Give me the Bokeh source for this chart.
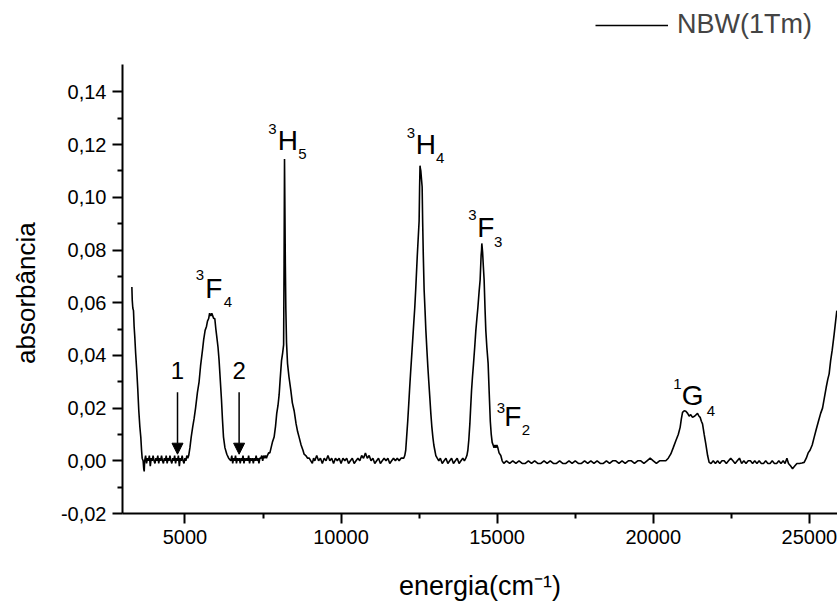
from bokeh.plotting import figure
from bokeh.models import (Range1d, FixedTicker, CustomJSTickFormatter, Arrow, NormalHead,
                          Legend, LegendItem, ColumnDataSource)
from bokeh.core.properties import value
from bokeh.embed import file_html
from bokeh.resources import INLINE

# ---------------- data ----------------
energy = [
    3300, 3312, 3330, 3352, 3372, 3394, 3420, 3458, 3490, 3522, 3555, 3586, 3610, 3630, 3660, 3680, 3695, 3710,
    3740, 3770, 3800, 3830, 3860, 3890, 3920, 3950, 3980, 4010, 4040, 4070, 4100, 4130, 4160, 4190, 4220, 4250,
    4280, 4310, 4340, 4370, 4400, 4430, 4460, 4490, 4520, 4550, 4580, 4610, 4640, 4670, 4700, 4730, 4760, 4790,
    4820, 4850, 4880, 4910, 4940, 4970, 5000, 5030, 5060, 5090, 5120,
    5160, 5200, 5250, 5293, 5340, 5400, 5453, 5500, 5562, 5600, 5646, 5690, 5722, 5760, 5790, 5828, 5860, 5890,
    5920, 5956, 5990, 6020, 6060, 6094, 6130, 6171, 6200, 6235, 6280, 6341, 6400, 6469,
    6500, 6530, 6560, 6590, 6620, 6650, 6680, 6710, 6740, 6770, 6800, 6830, 6860, 6890, 6920, 6950, 6980, 7010,
    7040, 7070, 7100, 7130, 7160, 7190, 7220, 7250, 7280, 7310, 7340, 7370, 7400, 7430, 7460, 7490, 7520, 7550,
    7580, 7610, 7640, 7680, 7720,
    7760, 7800, 7856, 7900, 7940, 7980, 8016, 8050, 8093, 8130, 8160, 8175, 8189, 8200, 8215, 8231, 8253, 8285,
    8330, 8391, 8440, 8497, 8560, 8610, 8656, 8720, 8780, 8817, 8870, 8930, 8980, 9031, 9080, 9120,
    9160, 9220, 9280, 9340, 9400, 9460, 9520, 9580, 9640, 9700, 9760, 9820, 9880, 9940, 10000, 10060, 10120,
    10180, 10240, 10300, 10360, 10420, 10480, 10540, 10600, 10660, 10720, 10780, 10840, 10900, 10960, 11020,
    11080, 11140, 11200, 11260, 11320, 11380, 11440, 11500, 11560, 11620, 11680, 11740, 11800, 11860, 11920, 11970,
    12007, 12040, 12071, 12100, 12135, 12165, 12199, 12230, 12263, 12295, 12327, 12360, 12391, 12442, 12500,
    12516, 12529, 12540, 12555, 12575, 12597, 12613, 12634, 12660, 12690, 12714, 12745, 12778, 12810, 12843,
    12875, 12907, 12940, 12971, 13003, 13035, 13080, 13131,
    13180, 13240, 13300, 13360, 13420, 13480, 13540, 13600, 13660, 13720, 13780, 13840, 13900, 13950,
    13996, 14030, 14061, 14092, 14125, 14150, 14179, 14210, 14243, 14280, 14317, 14350, 14381, 14420, 14454,
    14486, 14500, 14508, 14520, 14534, 14556, 14582, 14610, 14636, 14670, 14710, 14742, 14780, 14810, 14840,
    14870, 14900, 14930, 14960, 14990, 15020, 15060, 15116, 15160, 15212,
    15300, 15400, 15500, 15600, 15700, 15800, 15900, 16000, 16100, 16200, 16300, 16400, 16500, 16600, 16700,
    16800, 16900, 17000, 17100, 17200, 17300, 17400, 17500, 17600, 17700, 17800, 17900, 18000, 18100, 18200,
    18300, 18400, 18500, 18600, 18700, 18800, 18900, 19000, 19100, 19200, 19300, 19400, 19500, 19600, 19700,
    19800, 19900, 20000, 20100, 20200, 20300, 20402,
    20480, 20562, 20640, 20722, 20800, 20860, 20900, 20937, 20990, 21043, 21100, 21148, 21200, 21257, 21330,
    21417, 21460, 21501, 21540, 21577, 21630, 21683, 21740, 21789,
    21850, 21920, 21990, 22060, 22130, 22200, 22270, 22340, 22410, 22480, 22550, 22620, 22690, 22760, 22830,
    22900, 22970, 23040, 23110, 23180, 23250, 23320, 23390, 23460, 23530, 23600, 23670, 23740, 23810, 23880,
    23950, 24020, 24090, 24160, 24220, 24280, 24330, 24400, 24460, 24530, 24600, 24680, 24760, 24832,
    24900, 24960, 25020, 25090, 25152, 25220, 25290, 25360, 25421, 25480, 25540, 25590, 25632, 25680, 25730,
    25792, 25840, 25879,
]
absorbance = [
    0.066, 0.061, 0.058, 0.057, 0.051, 0.047, 0.041, 0.034, 0.027, 0.019, 0.013, 0.009, 0.004, 0.001, 0.000, -0.003, -0.004, 0.000,
    0.002, -0.001, 0.001, 0.000, 0.002, -0.002, 0.001, 0.000, 0.002, 0.000, -0.001, 0.001, 0.000, 0.002, -0.001, 0.001, 0.000, 0.002,
    0.000, -0.001, 0.001, 0.000, 0.002, -0.001, 0.001, 0.000, 0.002, 0.000, -0.001, 0.001, 0.000, 0.002, -0.001, 0.001, 0.000, 0.002,
    -0.002, 0.001, 0.000, 0.002, 0.000, -0.001, 0.001, 0.000, 0.002, 0.001, 0.002,
    0.005, 0.009, 0.013, 0.016, 0.020, 0.026, 0.030, 0.036, 0.042, 0.046, 0.0495, 0.051, 0.053, 0.054, 0.056, 0.055, 0.056, 0.055,
    0.054, 0.054, 0.050, 0.047, 0.043, 0.038, 0.031, 0.023, 0.016, 0.009, 0.005, 0.0025, 0.001, 0.000,
    0.002, -0.001, 0.001, 0.000, 0.002, -0.001, 0.001, 0.000, 0.001, -0.001, 0.001, 0.000, 0.002, -0.001, 0.001, 0.000, 0.001, 0.000,
    0.002, -0.001, 0.001, 0.000, 0.001, -0.001, 0.001, 0.000, 0.002, 0.000, 0.001, -0.001, 0.001, 0.001, 0.002, 0.000, 0.002, 0.001,
    0.002, 0.001, 0.002, 0.003, 0.003,
    0.005, 0.007, 0.009, 0.013, 0.018, 0.021, 0.025, 0.031, 0.038, 0.041, 0.044, 0.075, 0.1145, 0.098, 0.075, 0.058, 0.045, 0.037,
    0.032, 0.0267, 0.022, 0.019, 0.014, 0.011, 0.009, 0.006, 0.004, 0.0025, 0.002, 0.001, 0.001, 0.000, -0.001, 0.001,
    0.000, 0.002, 0.000, 0.001, -0.001, 0.001, 0.000, 0.002, 0.000, 0.001, -0.001, 0.001, 0.000, 0.001, -0.001, 0.001, 0.000,
    0.001, -0.001, 0.000, 0.001, -0.001, 0.000, 0.001, 0.000, 0.002, 0.001, 0.003, 0.001, 0.002, 0.000, 0.001,
    -0.001, 0.000, 0.001, -0.001, 0.000, 0.001, 0.000, 0.001, -0.001, 0.000, 0.001, 0.000, 0.001, 0.000, 0.001, 0.001,
    0.001, 0.002, 0.004, 0.009, 0.015, 0.021, 0.028, 0.034, 0.040, 0.046, 0.052, 0.058, 0.065, 0.078, 0.091,
    0.104, 0.112, 0.111, 0.110, 0.107, 0.104, 0.091, 0.078, 0.065, 0.057, 0.050, 0.043, 0.036, 0.030, 0.024,
    0.018, 0.013, 0.009, 0.006, 0.004, 0.002, 0.001, 0.000,
    0.001, -0.001, 0.000, 0.001, -0.001, 0.000, 0.001, -0.001, 0.000, 0.001, -0.001, 0.000, 0.001, 0.000,
    0.001, 0.002, 0.004, 0.008, 0.014, 0.020, 0.0267, 0.032, 0.037, 0.043, 0.0495, 0.054, 0.058, 0.064, 0.0686,
    0.078, 0.080, 0.0825, 0.081, 0.079, 0.074, 0.0686, 0.058, 0.0495, 0.043, 0.037, 0.0267, 0.015, 0.010, 0.007,
    0.006, 0.005, 0.006, 0.005, 0.006, 0.005, 0.003, 0.002, 0.000, -0.001,
    0.000, -0.001, 0.000, -0.001, 0.000, -0.001, -0.001, 0.000, -0.001, 0.000, -0.001, -0.001, 0.000, -0.001, 0.000,
    -0.001, -0.001, 0.000, -0.001, -0.001, 0.000, -0.001, 0.000, -0.001, -0.001, 0.000, -0.001, 0.000, -0.001, 0.000,
    -0.001, -0.001, 0.000, -0.001, 0.000, 0.000, -0.001, 0.000, -0.001, 0.000, 0.000, -0.001, 0.000, 0.000, -0.001,
    0.000, 0.001, 0.000, -0.001, 0.000, 0.000, 0.000,
    0.001, 0.0026, 0.005, 0.0076, 0.010, 0.0127, 0.016, 0.0184, 0.019, 0.0188, 0.018, 0.017, 0.0175, 0.0165, 0.017,
    0.018, 0.017, 0.0165, 0.015, 0.014, 0.010, 0.0063, 0.002, -0.0006,
    -0.001, 0.000, -0.001, 0.000, -0.001, 0.000, 0.000, -0.001, 0.000, 0.001, 0.000, -0.001, 0.000, 0.001, -0.001,
    0.000, -0.001, 0.000, 0.000, -0.001, 0.000, -0.001, 0.000, -0.001, -0.001, 0.000, -0.001, -0.001, 0.000, -0.001,
    -0.001, 0.000, -0.001, 0.000, -0.001, 0.001, -0.001, -0.002, -0.003, -0.002, -0.001, -0.001, -0.0008, -0.0006,
    0.001, 0.003, 0.004, 0.006, 0.0089, 0.012, 0.015, 0.018, 0.020, 0.024, 0.028, 0.031, 0.033, 0.038, 0.042,
    0.048, 0.053, 0.057,
]

series_name = "NBW(1Tm)"
x_label = "energia(cm\u207b\u00b9)"
y_label = "absorb\u00e2ncia"

x_major_ticks = [5000, 10000, 15000, 20000, 25000]
x_minor_ticks = [7500, 12500, 17500, 22500]
y_major_ticks = [-0.02, 0.0, 0.02, 0.04, 0.06, 0.08, 0.10, 0.12, 0.14]
y_minor_ticks = [-0.01, 0.01, 0.03, 0.05, 0.07, 0.09, 0.11, 0.13]
y_axis_extent = (-0.02, 0.1505)

# level annotations (superscript, letter, subscript pieces) and arrow numbers
ann_text = ["3", "F", "4", "3", "H", "5", "3", "H", "4", "3", "F", "3", "3", "F", "2", "1", "G", "4", "1", "2"]
ann_x = [5476, 5924, 6373, 7805, 8295, 8765, 12234, 12715, 13173, 14211, 14637, 15031,
         15117, 15501, 15918, 20776, 21257, 21843, 4762, 6735]
ann_y = [0.0705, 0.0655, 0.0602, 0.1261, 0.1216, 0.1165, 0.1245, 0.1200, 0.1149, 0.0933, 0.0886, 0.0832,
         0.0202, 0.0168, 0.0118, 0.0290, 0.0248, 0.0190, 0.0343, 0.0343]
ann_size = ["15px", "28px", "15px"] * 6 + ["24px", "24px"]

arrow_x = [4762, 6735]
arrow_y_start = [0.026, 0.026]
arrow_y_end = [0.0025, 0.0025]

FONT = "Liberation Sans"

# frame spans the whole height above the x axis; the y axis line is bounded to its data extent
p = figure(width=837, height=610, output_backend="svg", toolbar_location=None,
           x_range=Range1d(3000, 25900), y_range=Range1d(-0.02, 0.1747),
           min_border_left=122, min_border_right=0, min_border_top=0, min_border_bottom=97)
p.outline_line_color = None
p.xgrid.visible = False
p.ygrid.visible = False
p.background_fill_color = "white"
p.border_fill_color = "white"

line = p.line(energy, absorbance, line_color="black", line_width=1.6)

src = ColumnDataSource(dict(x=ann_x, y=ann_y, text=ann_text, size=ann_size))
p.text(x="x", y="y", text="text", text_font_size="size", source=src, text_align="center",
       text_baseline="middle", text_color="black", text_font=value(FONT))

for xa, ys, ye in zip(arrow_x, arrow_y_start, arrow_y_end):
    p.add_layout(Arrow(end=NormalHead(size=11, fill_color="black", line_color="black", line_width=1),
                       x_start=xa, y_start=ys, x_end=xa, y_end=ye, line_color="black", line_width=1.5))

for ax in (p.xaxis[0], p.yaxis[0]):
    ax.axis_line_width = 2
    ax.major_tick_line_width = 2
    ax.minor_tick_line_width = 2
    ax.major_tick_out = 10
    ax.major_tick_in = 0
    ax.minor_tick_out = 5
    ax.minor_tick_in = 0
    ax.major_label_text_font = FONT
    ax.major_label_text_font_size = "20px"
    ax.major_label_text_color = "black"
    ax.axis_label_text_font = FONT
    ax.axis_label_text_font_style = "normal"
    ax.axis_label_text_color = "black"
    ax.axis_line_color = "black"
    ax.major_tick_line_color = "black"
    ax.minor_tick_line_color = "black"

p.xaxis[0].axis_label_text_font_size = "27px"
p.yaxis[0].axis_label_text_font_size = "26px"
p.xaxis[0].ticker = FixedTicker(ticks=x_major_ticks, minor_ticks=x_minor_ticks)
p.yaxis[0].ticker = FixedTicker(ticks=y_major_ticks, minor_ticks=y_minor_ticks)
p.yaxis[0].bounds = y_axis_extent
p.yaxis[0].formatter = CustomJSTickFormatter(code="return tick.toFixed(2).replace('.', ',');")
p.xaxis[0].axis_label = x_label
# trailing no-break spaces centre the visible label on the bounded axis line
p.yaxis[0].axis_label = y_label + "\u00a0" * 10
p.xaxis[0].major_label_standoff = 6
p.yaxis[0].major_label_standoff = 6
p.xaxis[0].axis_label_standoff = 24
p.yaxis[0].axis_label_standoff = 17

legend = Legend(items=[LegendItem(label=series_name, renderers=[line])], location=(473, 473),
                padding=0, margin=0, spacing=0, label_standoff=9, glyph_width=73, glyph_height=26,
                label_height=26, label_text_font=FONT, label_text_font_size="27px",
                border_line_color=None, background_fill_alpha=0)
p.add_layout(legend, "center")

open("out.html", "w").write(file_html(p, INLINE))
